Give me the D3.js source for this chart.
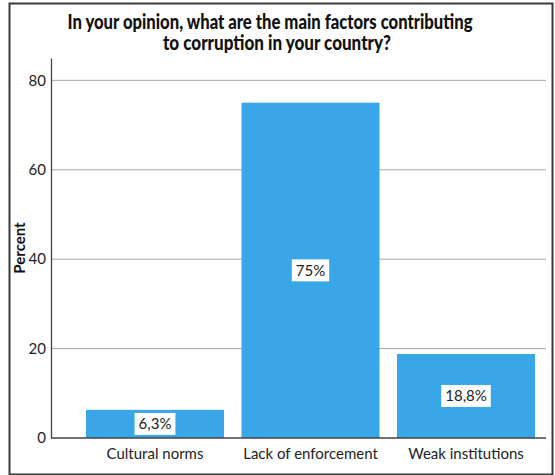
<!DOCTYPE html>
<html>
<head>
<meta charset="utf-8">
<script src="https://cdn.jsdelivr.net/npm/d3@7"></script>
<style>
  html, body { margin: 0; padding: 0; background: #fff; }
  svg { display: block; font-family: 'Lato', 'Roboto', sans-serif; }
</style>
</head>
<body>
<svg id="chart"></svg>
<script>
const categories = ['Cultural norms', 'Lack of enforcement', 'Weak institutions']
const percents = [6.3, 75, 18.8]
const valueLabels = ['6,3%', '75%', '18,8%']
const yTicks = [0, 20, 40, 60, 80]
const titleLines = ['In your opinion, what are the main factors contributing', 'to corruption in your country?']

const width = 555
const height = 475
const margin = { top: 58, bottom: 37, left: 51, right: 9 }
const bodyHeight = height - margin.top - margin.bottom
const barColor = '#38a6e7'

const svg = d3.select('#chart').attr('width', width).attr('height', height)

// frame round the whole chart
svg.append('rect')
  .attr('x', 9.5).attr('y', 3.5)
  .attr('width', 543).attr('height', 471)
  .attr('fill', 'none').attr('stroke', '#3a3a3a').attr('stroke-width', 2)

// title, squeezed to the narrow width of the original condensed face
const titleWidths = [405, 228]
const titleCenters = [270, 277]
svg.append('g')
  .selectAll('text')
  .data(titleLines)
  .enter()
  .append('text')
  .attr('x', (d, i) => titleCenters[i])
  .attr('y', (d, i) => 29 + i * 21)
  .attr('text-anchor', 'middle')
  .attr('textLength', (d, i) => titleWidths[i])
  .attr('lengthAdjust', 'spacingAndGlyphs')
  .style('font-weight', '900')
  .style('font-size', '21px')
  .attr('fill', '#111')
  .text(d => d)

const yScale = d3.scaleLinear()
  .domain([0, 85])
  .range([margin.top + bodyHeight, margin.top])

const xScale = d3.scaleBand()
  .domain(categories)
  .range([86, 535])
  .paddingInner(0.1125)
  .paddingOuter(0)

// gridlines
svg.append('g')
  .selectAll('line')
  .data(yTicks.filter(t => t > 0))
  .enter()
  .append('line')
  .attr('x1', margin.left).attr('x2', width - margin.right)
  .attr('y1', d => yScale(d)).attr('y2', d => yScale(d))
  .attr('stroke', '#a8a8a8').attr('stroke-width', 1)

// bars
svg.append('g')
  .selectAll('rect')
  .data(percents)
  .enter()
  .append('rect')
  .attr('x', (d, i) => xScale(categories[i]))
  .attr('y', d => yScale(d))
  .attr('width', xScale.bandwidth())
  .attr('height', d => yScale(0) - yScale(d))
  .attr('fill', barColor)

// baseline
svg.append('line')
  .attr('x1', margin.left).attr('x2', width - margin.right)
  .attr('y1', yScale(0)).attr('y2', yScale(0))
  .attr('stroke', '#444').attr('stroke-width', 1.3)

// y axis
const axisY = d3.axisLeft(yScale).tickValues(yTicks).tickSize(0).tickPadding(5)
const gy = svg.append('g')
  .attr('transform', `translate(${margin.left},0)`)
  .call(axisY)
gy.select('.domain').attr('stroke', '#444').attr('stroke-width', 1.3)
gy.selectAll('text').style('font-family', 'Lato, sans-serif').style('font-size', '15px').attr('fill', '#222')

// x axis
const axisX = d3.axisBottom(xScale).tickSize(0).tickPadding(10)
const gx = svg.append('g')
  .attr('transform', `translate(0,${yScale(0)})`)
  .call(axisX)
gx.select('.domain').remove()
gx.selectAll('text').style('font-family', 'Lato, sans-serif').style('font-size', '15px').attr('fill', '#222')

// value labels in white boxes
const labels = svg.append('g')
  .selectAll('g')
  .data(percents)
  .enter()
  .append('g')
  .attr('transform', (d, i) => `translate(${xScale(categories[i]) + xScale.bandwidth() / 2},${yScale(Math.min(d / 2, 50))})`)

labels.append('text')
  .attr('text-anchor', 'middle')
  .attr('dy', '0.35em')
  .style('font-size', '15px')
  .attr('fill', '#222')
  .text((d, i) => valueLabels[i])

labels.each(function () {
  const g = d3.select(this)
  const bb = g.select('text').node().getBBox()
  g.insert('rect', 'text')
    .attr('x', bb.x - 4).attr('y', -11)
    .attr('width', bb.width + 8).attr('height', 22)
    .attr('fill', '#fff')
})

// y axis title
svg.append('text')
  .attr('transform', `translate(25,${margin.top + bodyHeight / 2}) rotate(-90)`)
  .attr('text-anchor', 'middle')
  .style('font-weight', 'bold')
  .style('font-size', '15px')
  .attr('fill', '#111')
  .text('Percent')
</script>
</body>
</html>
